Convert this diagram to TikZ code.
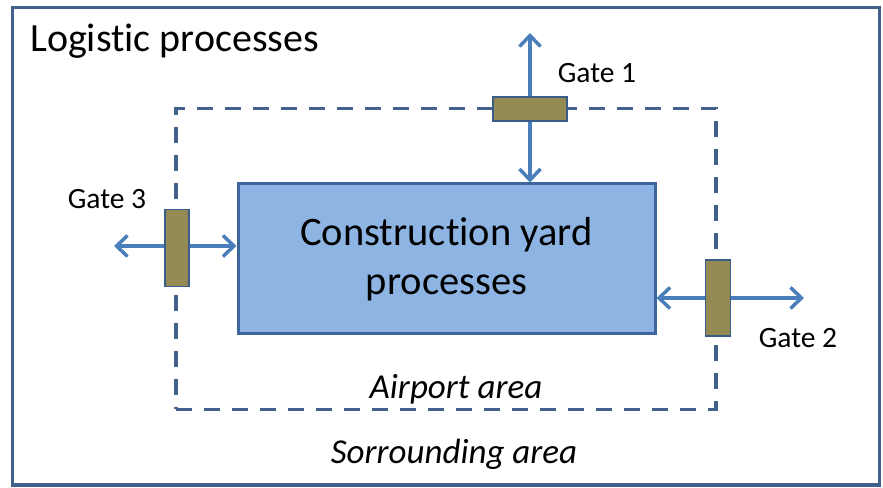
\documentclass[tikz,border=0pt]{standalone}
\usepackage{fontspec}
\setmainfont[Ligatures=NoCommon]{Carlito}
\usetikzlibrary{positioning,arrows.meta,calc}

\definecolor{framecol}{HTML}{41618C}
\definecolor{yardfill}{HTML}{8DB4E2}
\definecolor{yardline}{HTML}{3D679C}
\definecolor{flowcol}{HTML}{4A7EBB}
\definecolor{gatefill}{HTML}{948A54}
\definecolor{gateline}{HTML}{3A5C88}

\begin{document}
\begin{tikzpicture}[x=1pt,y=1pt]

  \tikzset{
    gate/.style={draw=gateline,fill=gatefill,line width=1.5pt,inner sep=0pt},
    flow/.style={flowcol,line width=3.5pt,
      {Straight Barb[length=11pt,width=21pt]}-{Straight Barb[length=11pt,width=21pt]}},
    gatelbl/.style={font=\fontsize{29.5}{35}\selectfont},
    arealbl/.style={font=\fontsize{35}{42}\selectfont\itshape},
  }

  \useasboundingbox (0,0) rectangle (883,487);

  % frames
  \node[draw=framecol,line width=3pt,minimum width=867pt,minimum height=477pt,
        inner sep=0pt] (logistic) at (445.5,240.5) {};
  \node[anchor=west,inner sep=0pt,font=\fontsize{40}{48}\selectfont] (logistictxt) at (30,446) {Logistic processes};

  \node[draw=framecol,line width=3.5pt,dash pattern=on 16pt off 12pt,
        minimum width=540pt,minimum height=301pt,inner sep=0pt] (airport) at (446,228) {};

  \node[draw=yardline,fill=yardfill,line width=3pt,minimum width=417pt,minimum height=150pt,
        align=center,font=\fontsize{40.5}{49}\selectfont] (yard) at (446.5,228)
        {Construction yard\\processes};

  \node[arealbl] (airporttxt) at (456,98) {Airport area};
  \node[arealbl] (surrounding) at (454,33) {Sorrounding area};

  % GATES
  \coordinate (outone) at (530,454);
  \coordinate (outthree) at (114,241);
  \coordinate (outtwo) at (804,189);

  \draw[flow] (outone) -- (yard.north -| outone);
  \draw[flow] (outthree) -- (yard.west |- outthree);
  \draw[flow] (yard.east |- outtwo) -- (outtwo);

  \node[gate,minimum width=74pt,minimum height=24pt] (gateone) at (530,378) {};
  \node[gate,minimum width=24pt,minimum height=77pt] (gatethree) at (177,239) {};
  \node[gate,minimum width=25pt,minimum height=76pt] (gatetwo) at (718,189) {};

  \node[gatelbl] (gateonetxt) at (597,414) {Gate 1};
  \node[gatelbl] (gatethreetxt) at (107,288) {Gate 3};
  \node[gatelbl] (gatetwotxt) at (798,149) {Gate 2};

\end{tikzpicture}
\end{document}
